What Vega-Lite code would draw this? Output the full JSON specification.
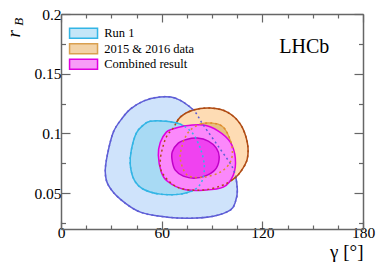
{
  "$schema": "https://vega.github.io/schema/vega-lite/v6.json",
  "autosize": {"type": "none"},
  "width": 302,
  "height": 215,
  "padding": {"left": 61, "top": 14, "right": 19, "bottom": 47},
  "datasets": {
    "r1o": [
      {"i":0,"x":58.0,"y":0.1304},{"i":1,"x":68.1,"y":0.1296},{"i":2,"x":78.9,"y":0.1196},{"i":3,"x":84.8,"y":0.107},{"i":4,"x":94.9,"y":0.0869},{"i":5,"x":102.7,"y":0.0701},{"i":6,"x":105.1,"y":0.0533},{"i":7,"x":103.9,"y":0.0425},{"i":8,"x":100.9,"y":0.0358},{"i":9,"x":90.8,"y":0.0307},{"i":10,"x":77.1,"y":0.029},{"i":11,"x":63.4,"y":0.0299},{"i":12,"x":47.3,"y":0.0341},{"i":13,"x":35.3,"y":0.045},{"i":14,"x":28.2,"y":0.0567},{"i":15,"x":26.4,"y":0.0676},{"i":16,"x":27.6,"y":0.0818},{"i":17,"x":31.2,"y":0.1011},{"i":18,"x":36.5,"y":0.1128},{"i":19,"x":41.3,"y":0.1204},{"i":20,"x":49.1,"y":0.1271}
    ],
    "r1i": [
      {"i":0,"x":53.2,"y":0.1103},{"i":1,"x":62.2,"y":0.1103},{"i":2,"x":71.1,"y":0.1078},{"i":3,"x":78.3,"y":0.1003},{"i":4,"x":83.0,"y":0.0877},{"i":5,"x":85.4,"y":0.0735},{"i":6,"x":84.2,"y":0.0609},{"i":7,"x":80.0,"y":0.0533},{"i":8,"x":71.1,"y":0.0492},{"i":9,"x":59.2,"y":0.0492},{"i":10,"x":49.1,"y":0.0533},{"i":11,"x":43.7,"y":0.0609},{"i":12,"x":41.3,"y":0.0735},{"i":13,"x":41.9,"y":0.086},{"i":14,"x":44.9,"y":0.1003},{"i":15,"x":49.1,"y":0.107}
    ],
    "oo": [
      {"i":0,"x":66.9,"y":0.1045},{"i":1,"x":71.1,"y":0.1137},{"i":2,"x":78.9,"y":0.1196},{"i":3,"x":89.0,"y":0.1212},{"i":4,"x":99.1,"y":0.1179},{"i":5,"x":106.9,"y":0.1078},{"i":6,"x":111.0,"y":0.0927},{"i":7,"x":111.0,"y":0.0785},{"i":8,"x":106.9,"y":0.0676},{"i":9,"x":102.7,"y":0.0617},{"i":10,"x":94.9,"y":0.0559},{"i":11,"x":83.0,"y":0.0525},{"i":12,"x":69.3,"y":0.055},{"i":13,"x":60.4,"y":0.0668},{"i":14,"x":59.2,"y":0.0777},{"i":15,"x":61.0,"y":0.0902},{"i":16,"x":63.4,"y":0.0986}
    ],
    "oi": [
      {"i":0,"x":77.1,"y":0.1028},{"i":1,"x":83.0,"y":0.1078},{"i":2,"x":90.2,"y":0.1087},{"i":3,"x":96.1,"y":0.1061},{"i":4,"x":99.7,"y":0.0986},{"i":5,"x":102.1,"y":0.0869},{"i":6,"x":100.9,"y":0.076},{"i":7,"x":94.9,"y":0.0676},{"i":8,"x":84.8,"y":0.0634},{"i":9,"x":75.3,"y":0.0651},{"i":10,"x":71.1,"y":0.0785},{"i":11,"x":72.3,"y":0.0902},{"i":12,"x":74.1,"y":0.0969}
    ],
    "co": [
      {"i":0,"x":66.3,"y":0.1036},{"i":1,"x":72.9,"y":0.1061},{"i":2,"x":84.8,"y":0.107},{"i":3,"x":93.8,"y":0.102},{"i":4,"x":100.9,"y":0.0927},{"i":5,"x":103.9,"y":0.0793},{"i":6,"x":102.7,"y":0.0651},{"i":7,"x":96.7,"y":0.055},{"i":8,"x":84.8,"y":0.0525},{"i":9,"x":72.9,"y":0.0533},{"i":10,"x":63.4,"y":0.06},{"i":11,"x":59.8,"y":0.0676},{"i":12,"x":58.0,"y":0.0818},{"i":13,"x":59.2,"y":0.0927},{"i":14,"x":62.8,"y":0.1011}
    ],
    "ci": [
      {"i":0,"x":66.3,"y":0.0844},{"i":1,"x":69.9,"y":0.0919},{"i":2,"x":75.3,"y":0.0952},{"i":3,"x":81.2,"y":0.0961},{"i":4,"x":87.8,"y":0.0936},{"i":5,"x":92.6,"y":0.0877},{"i":6,"x":94.3,"y":0.0802},{"i":7,"x":92.6,"y":0.071},{"i":8,"x":87.2,"y":0.0651},{"i":9,"x":80.0,"y":0.0626},{"i":10,"x":72.9,"y":0.0643},{"i":11,"x":68.1,"y":0.0693},{"i":12,"x":66.3,"y":0.0768}
    ],
    "legend": [
      {"name":"Run 1"},{"name":"2015 & 2016 data"},{"name":"Combined result"}
    ],
    "labels": [
      {"t":"LHCb","x":145,"y":0.1673}
    ]
  },
  "layer": [
    {
      "encoding": {
        "x": {"field": "x", "type": "quantitative", "scale": {"domain": [0, 180], "nice": false, "zero": false},
          "axis": {"title": "γ [°]", "values": [0,15,30,45,60,75,90,105,120,135,150,165,180],
            "labelExpr": "datum.value % 60 === 0 ? toString(datum.value) : ''", "labelFlush": false, "labelBound": false, "labelAlign": "center",
            "tickSize": {"condition": {"test": "datum.value % 60 === 0", "value": -8}, "value": -4},
            "labelPadding": 4, "titleX": 302, "titleY": 28, "titleAlign": "right", "titleAnchor": null, "titleBaseline": "alphabetic", "titleFontSize": 19, "titleFontWeight": "normal"}},
        "y": {"field": "y", "type": "quantitative", "scale": {"domain": [0.02, 0.2], "nice": false, "zero": false},
          "axis": {"title": null, "values": [0.025,0.05,0.075,0.1,0.125,0.15,0.175,0.2],
            "labelExpr": "round(datum.value*1000) % 50 === 0 ? toString(round(datum.value*100)/100) : ''", "labelFlush": false,
            "tickSize": {"condition": {"test": "round(datum.value*1000) % 50 === 0", "value": -9}, "value": -4.5},
            "labelPadding": 9}}
      },
      "layer": [
        {"data": {"name": "r1o"}, "mark": {"type": "line", "interpolate": "cardinal-closed", "fill": "#cfe3fb", "stroke": "#5e5ed6", "strokeWidth": 1.5}, "encoding": {"order": {"field": "i", "type": "quantitative"}}},
        {"data": {"name": "oo"}, "mark": {"type": "line", "interpolate": "cardinal-closed", "fill": "#fedcb4", "stroke": "#b04c14", "strokeWidth": 1.5}, "encoding": {"order": {"field": "i", "type": "quantitative"}}},
        {"data": {"name": "r1i"}, "mark": {"type": "line", "interpolate": "cardinal-closed", "fill": "#a8daf4", "stroke": "#33b5e5", "strokeWidth": 1.5}, "encoding": {"order": {"field": "i", "type": "quantitative"}}},
        {"data": {"name": "oi"}, "mark": {"type": "line", "interpolate": "cardinal-closed", "fill": "#e6bf82", "stroke": "#e0a040", "strokeWidth": 1.2}, "encoding": {"order": {"field": "i", "type": "quantitative"}}},
        {"data": {"name": "co"}, "mark": {"type": "line", "interpolate": "cardinal-closed", "fill": "#fb88fb", "stroke": "#e000e0", "strokeWidth": 1.5}, "encoding": {"order": {"field": "i", "type": "quantitative"}}},
        {"data": {"name": "ci"}, "mark": {"type": "line", "interpolate": "cardinal-closed", "fill": "#f042f0", "stroke": "#c000c8", "strokeWidth": 1.5}, "encoding": {"order": {"field": "i", "type": "quantitative"}}},
        {"data": {"name": "r1o"}, "mark": {"type": "line", "interpolate": "cardinal-closed", "stroke": "#5e5ed6", "strokeWidth": 1.5, "strokeDash": [2, 3]}, "encoding": {"order": {"field": "i", "type": "quantitative"}}},
        {"data": {"name": "r1i"}, "mark": {"type": "line", "interpolate": "cardinal-closed", "stroke": "#33b5e5", "strokeWidth": 1.5, "strokeDash": [2, 3]}, "encoding": {"order": {"field": "i", "type": "quantitative"}}},
        {"data": {"name": "oo"}, "mark": {"type": "line", "interpolate": "cardinal-closed", "stroke": "#b04c14", "strokeWidth": 1.5, "strokeDash": [2, 3]}, "encoding": {"order": {"field": "i", "type": "quantitative"}}},
        {"data": {"name": "oi"}, "mark": {"type": "line", "interpolate": "cardinal-closed", "stroke": "#e08a30", "strokeWidth": 1.5, "strokeDash": [2, 3]}, "encoding": {"order": {"field": "i", "type": "quantitative"}}},
        {"data": {"name": "labels"}, "mark": {"type": "text", "font": "Liberation Serif", "fontSize": 20, "align": "center", "baseline": "alphabetic", "color": "#000", "clip": false},
          "encoding": {"text": {"field": "t", "type": "nominal"}}},
        {"data": {"name": "legend"}, "mark": {"type": "point", "filled": true, "shape": "M-3,-1.07H3V1.07H-3Z", "size": 87, "clip": true, "strokeWidth": 1.5},
          "encoding": {
            "x": {"datum": -1000}, "y": {"datum": -1},
            "fill": {"field": "name", "type": "nominal", "scale": {"domain": ["Run 1", "2015 & 2016 data", "Combined result"], "range": ["#c4e6f8", "#f2d3a8", "#f79cf7"]},
              "legend": {"title": null, "orient": "none", "legendX": 16.3, "legendY": 13, "symbolType": "M-3,-1.07H3V1.07H-3Z", "symbolSize": 87, "symbolStrokeWidth": 1.5, "symbolOpacity": 1, "labelFont": "Liberation Serif", "labelFontSize": 12.5, "labelColor": "#000", "labelOffset": 14.4, "rowPadding": -1.5}},
            "stroke": {"field": "name", "type": "nominal", "scale": {"domain": ["Run 1", "2015 & 2016 data", "Combined result"], "range": ["#33b5e5", "#d9a050", "#e000e0"]},
              "legend": {"title": null, "orient": "none", "legendX": 16.3, "legendY": 13, "symbolType": "M-3,-1.07H3V1.07H-3Z", "symbolSize": 87, "symbolStrokeWidth": 1.5, "symbolOpacity": 1, "labelFont": "Liberation Serif", "labelFontSize": 12.5, "labelColor": "#000", "labelOffset": 14.4, "rowPadding": -1.5}}
          }}
      ]
    },
    {
      "data": {"values": [{"t": "r", "x": -24.4, "y": 0.1835}]},
      "mark": {"type": "text", "font": "Liberation Serif", "fontStyle": "italic", "fontSize": 19, "align": "center", "baseline": "alphabetic", "angle": 270, "color": "#000", "clip": false},
      "encoding": {
        "x": {"field": "x", "type": "quantitative", "scale": {"domain": [0, 180], "nice": false, "zero": false},
          "axis": {"orient": "top", "title": null, "labels": false, "values": [0,15,30,45,60,75,90,105,120,135,150,165,180],
            "tickSize": {"condition": {"test": "datum.value % 60 === 0", "value": -8}, "value": -4}}},
        "y": {"field": "y", "type": "quantitative", "scale": {"domain": [0.02, 0.2], "nice": false, "zero": false},
          "axis": {"orient": "right", "title": null, "labels": false, "values": [0.025,0.05,0.075,0.1,0.125,0.15,0.175,0.2],
            "tickSize": {"condition": {"test": "round(datum.value*1000) % 50 === 0", "value": -9}, "value": -4.5}}},
        "text": {"field": "t", "type": "nominal"}
      }
    },
    {
      "data": {"values": [{"t": "B", "x": -22.6, "y": 0.1935}]},
      "mark": {"type": "text", "font": "Liberation Serif", "fontStyle": "italic", "fontSize": 13, "align": "center", "baseline": "alphabetic", "angle": 270, "color": "#000", "clip": false},
      "encoding": {
        "x": {"field": "x", "type": "quantitative", "axis": null},
        "y": {"field": "y", "type": "quantitative", "axis": null},
        "text": {"field": "t", "type": "nominal"}
      }
    }
  ],
  "resolve": {"axis": {"x": "independent", "y": "independent"}},
  "config": {
    "view": {"stroke": null},
    "axis": {"grid": false, "domainColor": "#666", "domainWidth": 1.5, "tickColor": "#666", "tickWidth": 1.2,
      "labelFont": "Liberation Serif", "labelFontSize": 15.5, "labelColor": "#000",
      "titleFont": "Liberation Serif", "titleColor": "#000"},
    "axisX": {"labelFlush": false}
  }
}
